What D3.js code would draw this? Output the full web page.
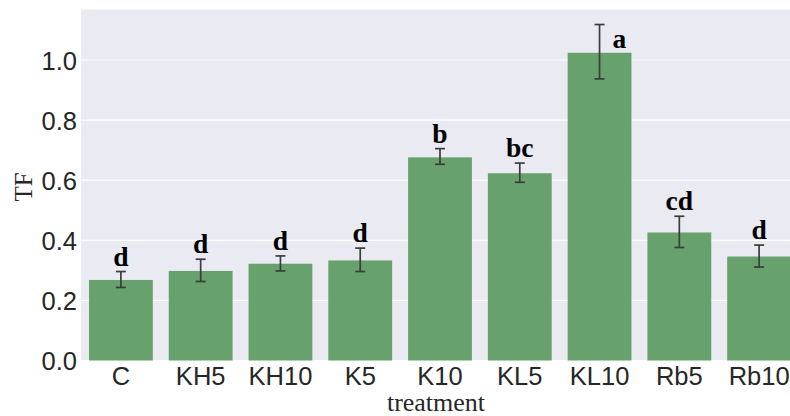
<!DOCTYPE html>
<html>
<head>
  <meta charset="utf-8">
  <title>TF by treatment</title>
  <script src="https://cdn.jsdelivr.net/npm/d3@7"></script>
  <style>
    body { margin: 0; background: #fff; }
    svg { display: block; }
  </style>
</head>
<body>
  <div id="myChart"></div>
  <script>
    // values
    const treatments = ["C", "KH5", "KH10", "K5", "K10", "KL5", "KL10", "Rb5", "Rb10"];
    const tfMean = [0.268, 0.298, 0.322, 0.333, 0.676, 0.623, 1.024, 0.426, 0.346];
    const errLow = [0.243, 0.263, 0.298, 0.296, 0.653, 0.593, 0.937, 0.376, 0.311];
    const errHigh = [0.296, 0.337, 0.348, 0.374, 0.705, 0.657, 1.118, 0.480, 0.384];
    const groupLetters = ["d", "d", "d", "d", "b", "bc", "a", "cd", "d"];
    const yTicks = [0, 0.2, 0.4, 0.6, 0.8, 1.0];

    const rows = treatments.map((t, i) => ({
      name: t, mean: tfMean[i], lo: errLow[i], hi: errHigh[i], letter: groupLetters[i]
    }));

    const width = 790;
    const height = 416;
    const margins = { top: 9.5, right: -9, bottom: 55.5, left: 81 };

    const x = d3.scaleBand()
        .domain(treatments)
        .range([margins.left, width - margins.right])
        .paddingInner(0.2)
        .paddingOuter(0.1);

    const y = d3.scaleLinear()
        .domain([0, 1.168])
        .range([height - margins.bottom, margins.top]);

    const svg = d3.select("#myChart").append("svg")
        .attr("width", width)
        .attr("height", height);

    // plot background
    svg.append("rect")
        .attr("x", margins.left)
        .attr("y", margins.top)
        .attr("width", width - margins.right - margins.left)
        .attr("height", height - margins.bottom - margins.top)
        .attr("fill", "#eaeaf2");

    // gridlines
    svg.append("g")
        .selectAll("line")
        .data(yTicks)
        .enter().append("line")
        .attr("x1", margins.left)
        .attr("x2", width - margins.right)
        .attr("y1", d => y(d))
        .attr("y2", d => y(d))
        .attr("stroke", "#fff")
        .attr("stroke-width", 1.2);

    // bars
    svg.selectAll(".bar")
        .data(rows)
        .enter().append("rect")
        .attr("class", "bar")
        .attr("x", d => x(d.name))
        .attr("y", d => y(d.mean))
        .attr("width", x.bandwidth())
        .attr("height", d => y(0) - y(d.mean))
        .attr("fill", "#67a16b");

    // error bars
    const cap = 5;
    const eb = svg.append("g")
        .attr("stroke", "#3c3c3c")
        .attr("stroke-width", 1.7);
    rows.forEach(d => {
      const cx = x(d.name) + x.bandwidth() / 2;
      eb.append("line").attr("x1", cx).attr("x2", cx).attr("y1", y(d.lo)).attr("y2", y(d.hi));
      eb.append("line").attr("x1", cx - cap).attr("x2", cx + cap).attr("y1", y(d.lo)).attr("y2", y(d.lo));
      eb.append("line").attr("x1", cx - cap).attr("x2", cx + cap).attr("y1", y(d.hi)).attr("y2", y(d.hi));
    });

    // significance letters; when there is no room above, put it beside the error bar
    svg.selectAll(".letter")
        .data(rows)
        .enter().append("text")
        .attr("class", "letter")
        .each(function(d) {
          const cx = x(d.name) + x.bandwidth() / 2;
          const base = y(d.hi) - 6;
          const t = d3.select(this);
          if (base - 18 < margins.top) {
            t.attr("x", cx + 13).attr("y", y(d.mean) - 5).attr("text-anchor", "start");
          } else {
            t.attr("x", cx).attr("y", base).attr("text-anchor", "middle");
          }
        })
        .attr("font-family", "'Liberation Serif', 'Times New Roman', serif")
        .attr("font-weight", "bold")
        .attr("font-size", 27.5)
        .attr("fill", "#000")
        .text(d => d.letter);

    // x axis
    const xAxis = svg.append("g")
        .attr("transform", `translate(0,${y(0)})`)
        .call(d3.axisBottom(x).tickSize(0).tickPadding(0));
    xAxis.select(".domain").remove();
    xAxis.selectAll("text")
        .attr("y", 24)
        .attr("dy", 0)
        .attr("fill", "#262626")
        .style("font-family", "'Liberation Sans', Arial, sans-serif")
        .style("font-size", "25.5px");

    // y axis
    const yAxis = svg.append("g")
        .attr("transform", `translate(${margins.left},0)`)
        .call(d3.axisLeft(y).tickValues(yTicks).tickFormat(d3.format(".1f")).tickSize(0).tickPadding(4));
    yAxis.select(".domain").remove();
    yAxis.selectAll("text")
        .attr("dy", "0.36em")
        .attr("fill", "#262626")
        .style("font-family", "'Liberation Sans', Arial, sans-serif")
        .style("font-size", "25.5px");

    // axis titles
    svg.append("text")
        .attr("x", 436)
        .attr("y", 411)
        .attr("text-anchor", "middle")
        .attr("font-family", "'Liberation Serif', 'Times New Roman', serif")
        .attr("font-size", 26)
        .attr("fill", "#262626")
        .text("treatment");

    svg.append("text")
        .attr("transform", "translate(32,187) rotate(-90)")
        .attr("text-anchor", "middle")
        .attr("font-family", "'Liberation Serif', 'Times New Roman', serif")
        .attr("font-size", 25)
        .attr("fill", "#262626")
        .text("TF");
  </script>
</body>
</html>
